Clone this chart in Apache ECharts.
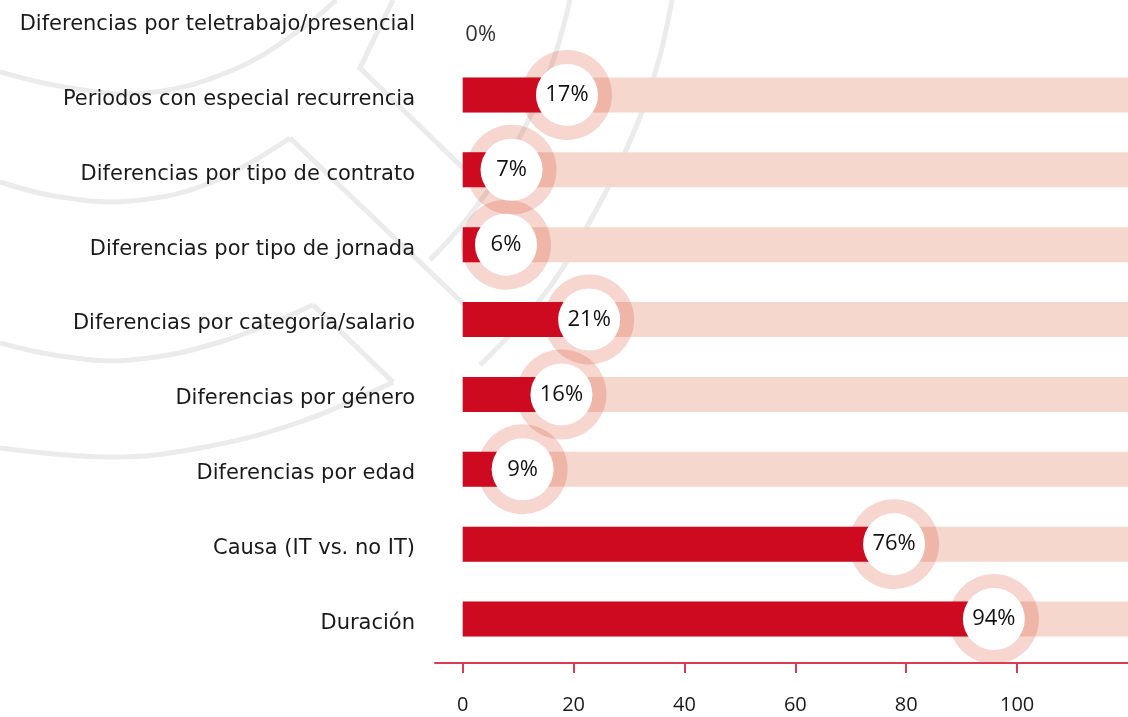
<!DOCTYPE html>
<html>
<head>
<meta charset="utf-8">
<script src="https://cdn.jsdelivr.net/npm/echarts@6/dist/echarts.min.js"></script>
<style>html,body{margin:0;padding:0;background:#fff}#chart{width:1128px;height:717px}</style>
</head>
<body>
<div id="chart"></div>
<script>
const categories = [
  'Diferencias por teletrabajo/presencial',
  'Periodos con especial recurrencia',
  'Diferencias por tipo de contrato',
  'Diferencias por tipo de jornada',
  'Diferencias por categoría/salario',
  'Diferencias por género',
  'Diferencias por edad',
  'Causa (IT vs. no IT)',
  'Duración'
];
const values = [0, 17, 7, 6, 21, 16, 9, 76, 94];
const tickValues = [0, 20, 40, 60, 80, 100];
const axisMin = -5;
const axisMax = 120;

const FONT = "'DejaVu Sans', sans-serif";
const NUMFONT = "'Open Sans', sans-serif";
const RED = '#cd0a20';
const PINK = '#f6d7cd';
const RING = 'rgba(214,69,37,0.22)';
const GRAY = '#ebebeb';

const chart = echarts.init(document.getElementById('chart'), null, {renderer: 'canvas'});

const bgData = values.map(v => (v > 0 ? axisMax : null));
const ringData = values.map((v, i) => [v, i]).filter(d => d[0] > 0);
const labelData = values.map((v, i) => {
  const item = {value: [v, i]};
  if (v === 0) {
    item.symbolSize = 0;
    item.label = {offset: [8, 15], color: '#333'};
  }
  return item;
});

function line(points, smooth) {
  return {
    type: 'polyline', z: -10, silent: true,
    shape: {points: points, smooth: smooth || 0},
    style: {stroke: GRAY, lineWidth: 5, fill: null}
  };
}

const option = {
  backgroundColor: '#fff',
  animation: false,
  graphic: [
    line([[0,72],[70,88],[147,93],[233,70],[300,30],[336,0]], 0.4),
    line([[393,0],[360,68],[470,175]]),
    line([[0,182],[60,197],[130,201],[210,183],[290,138]], 0.4),
    line([[290,138],[470,310]]),
    line([[0,343],[60,356],[130,360],[220,342],[313,305]], 0.4),
    line([[313,305],[393,382]]),
    line([[393,382],[300,422],[200,448],[110,457],[0,448]], 0.4),
    line([[570,0],[548,75],[510,155],[470,215],[430,260]], 0.4),
    line([[672,0],[656,70],[626,150],[585,230],[540,300],[480,365]], 0.4)
  ],
  grid: {left: 435, right: 0, top: 20, bottom: 98, containLabel: false},
  xAxis: {
    type: 'value',
    min: axisMin,
    max: axisMax,
    offset: 44,
    splitLine: {show: false},
    axisLine: {show: true, lineStyle: {color: '#dc3c52', width: 2}},
    axisTick: {show: true, customValues: tickValues, length: 10, lineStyle: {color: '#dc3c52', width: 2}},
    axisLabel: {customValues: tickValues, fontFamily: NUMFONT, fontSize: 20, color: '#1a1a1a', margin: 32}
  },
  yAxis: {
    type: 'category',
    data: categories,
    inverse: true,
    boundaryGap: false,
    axisLine: {show: false},
    axisTick: {show: false},
    splitLine: {show: false},
    axisLabel: {
      margin: 20,
      formatter: v => '{a|' + v + '}',
      rich: {a: {fontFamily: FONT, fontSize: 21, color: '#1a1a1a', padding: [9, 0, 0, 0]}}
    }
  },
  series: [
    {
      type: 'bar', name: 'fondo', data: bgData, barWidth: 35, barGap: '-100%',
      itemStyle: {color: PINK}, z: 1, clip: false, silent: true
    },
    {
      type: 'bar', name: 'valor', data: values, barWidth: 35, barGap: '-100%',
      itemStyle: {color: RED}, z: 3, clip: false, silent: true
    },
    {
      type: 'scatter', name: 'anillo', data: ringData, symbol: 'circle', symbolSize: 90,
      symbolOffset: [10, 0], itemStyle: {color: RING, opacity: 1}, z: 2, clip: false, silent: true
    },
    {
      type: 'scatter', name: 'etiqueta', data: labelData, symbol: 'circle', symbolSize: 62,
      symbolOffset: [10, 0], itemStyle: {color: '#fff', opacity: 1}, z: 4, clip: false, silent: true,
      label: {
        show: true, position: 'inside', fontFamily: NUMFONT, fontSize: 22, color: '#111',
        formatter: p => p.value[0] + '%'
      }
    }
  ]
};
chart.setOption(option);
</script>
</body>
</html>
